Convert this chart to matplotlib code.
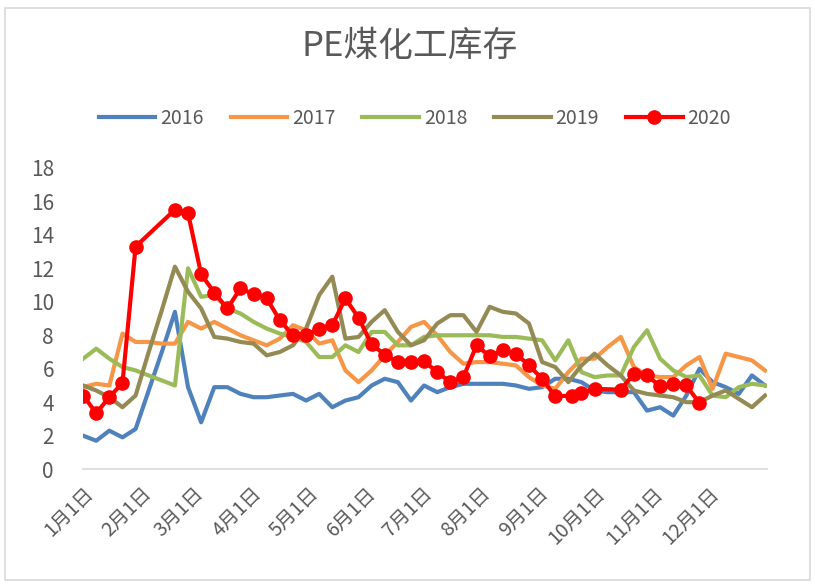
import matplotlib.pyplot as plt
from matplotlib.patches import Rectangle

plt.rcParams['font.family'] = ['Noto Sans CJK SC', 'DejaVu Sans']

# weekly readings, week 0 = 1月1日
s2016 = [2.0, 1.7, 2.3, 1.9, 2.4, 4.7, 7.0, 9.4, 4.9, 2.8, 4.9, 4.9, 4.5, 4.3,
         4.3, 4.4, 4.5, 4.1, 4.5, 3.7, 4.1, 4.3, 5.0, 5.4, 5.2, 4.1, 5.0, 4.6,
         4.9, 5.1, 5.1, 5.1, 5.1, 5.0, 4.8, 4.9, 5.4, 5.4, 5.2, 4.7, 4.6, 4.6,
         4.6, 3.5, 3.7, 3.2, 4.4, 6.0, 5.2, 4.9, 4.5, 5.6, 5.0]
s2017 = [4.9, 5.1, 5.0, 8.1, 7.6, 7.6, 7.5, 7.5, 8.8, 8.4, 8.8, 8.4, 8.0, 7.7,
         7.4, 7.8, 8.6, 8.3, 7.5, 7.7, 5.9, 5.2, 5.9, 6.8, 7.6, 8.5, 8.8, 8.0,
         7.0, 6.3, 6.4, 6.4, 6.3, 6.2, 5.5, 5.0, 4.8, 5.8, 6.6, 6.6, 7.3, 7.9,
         6.1, 5.6, 5.5, 5.5, 6.2, 6.7, 4.8, 6.9, 6.7, 6.5, 5.9]
s2018 = [6.6, 7.2, 6.6, 6.1, 5.9, 5.6, 5.3, 5.0, 12.0, 10.3, 10.4, 9.6, 9.3, 8.8,
         8.4, 8.1, 7.9, 7.6, 6.7, 6.7, 7.4, 7.0, 8.2, 8.2, 7.4, 7.4, 7.9, 8.0,
         8.0, 8.0, 8.0, 8.0, 7.9, 7.9, 7.8, 7.7, 6.5, 7.7, 5.8, 5.5, 5.6, 5.6,
         7.3, 8.3, 6.6, 5.9, 5.5, 5.6, 4.4, 4.3, 4.9, 5.1, 5.0]
s2019 = [5.0, 4.7, 4.3, 3.7, 4.4, 7.0, 9.5, 12.1, 10.6, 9.6, 7.9, 7.8, 7.6, 7.5,
         6.8, 7.0, 7.4, 8.4, 10.4, 11.5, 7.8, 7.9, 8.8, 9.5, 8.2, 7.4, 7.7, 8.7,
         9.2, 9.2, 8.2, 9.7, 9.4, 9.3, 8.7, 6.4, 6.1, 5.2, 6.2, 6.9, 6.2, 5.6,
         4.7, 4.5, 4.4, 4.3, 4.0, 4.0, 4.4, 4.7, 4.2, 3.7, 4.4]

# 2020 has its own dates (day of year), with the spring festival gap
days2020 = [0, 7, 14, 21, 28, 49, 56, 63, 70, 77, 84, 91, 98, 105, 112, 119,
            126, 133, 140, 147, 154, 161, 168, 175, 182, 189, 196, 203, 210,
            217, 224, 231, 238, 245, 252, 261, 266, 273, 287, 294, 301, 308,
            315, 322, 329]
s2020 = [4.4, 3.35, 4.3, 5.15, 13.3, 15.5, 15.3, 11.65, 10.55, 9.6, 10.8, 10.45,
         10.2, 8.9, 8.0, 8.0, 8.4, 8.6, 10.2, 9.05, 7.45, 6.85, 6.4, 6.4, 6.45,
         5.8, 5.2, 5.5, 7.4, 6.75, 7.1, 6.9, 6.2, 5.4, 4.35, 4.4, 4.55, 4.8,
         4.75, 5.7, 5.6, 4.95, 5.1, 5.0, 3.95]

month_days = [0, 31, 59, 90, 120, 151, 181, 212, 243, 273, 304, 334]
month_labels = [f'{m}月1日' for m in range(1, 13)]

grey = '#595959'
fig = plt.figure(figsize=(8.15, 5.85), dpi=100)
ax = fig.add_axes([0.102, 0.198, 0.839, 0.515])

weeks = [7 * i for i in range(len(s2016))]
ax.plot(weeks, s2016, color='#4F81BD', lw=3, label='2016')
ax.plot(weeks, s2017, color='#F79646', lw=3, label='2017')
ax.plot(weeks, s2018, color='#9BBB59', lw=3, label='2018')
ax.plot(weeks, s2019, color='#948A54', lw=3, label='2019')
ax.plot(days2020, s2020, color='#FF0000', lw=3, marker='o', markersize=9.5,
        label='2020')

ax.set_xlim(0, 365)
ax.set_ylim(0, 18)
ax.set_yticks(range(0, 19, 2))
ax.set_xticks(month_days)
ax.set_xticklabels(month_labels, rotation=45, ha='right', rotation_mode='anchor')
ax.tick_params(axis='both', length=0, labelsize=15, colors=grey)
ax.tick_params(axis='x', labelsize=14, pad=10)
ax.tick_params(axis='y', pad=21)
for side in ['top', 'right', 'left']:
    ax.spines[side].set_visible(False)
ax.spines['bottom'].set_color('#D9D9D9')
ax.spines['bottom'].set_linewidth(1.2)

fig.suptitle('PE煤化工库存', x=0.503, y=0.95, fontsize=25, color=grey)
fig.legend(loc='center', bbox_to_anchor=(0.509, 0.797), ncol=5, frameon=False,
           fontsize=14, labelcolor=grey, handlelength=2.9, columnspacing=1.4,
           handletextpad=0.25)

fig.patches.append(Rectangle((0.006, 0.008), 0.988, 0.978, transform=fig.transFigure,
                             fill=False, edgecolor='#D9D9D9', lw=1.2))

fig.savefig('out.png', dpi=100)
